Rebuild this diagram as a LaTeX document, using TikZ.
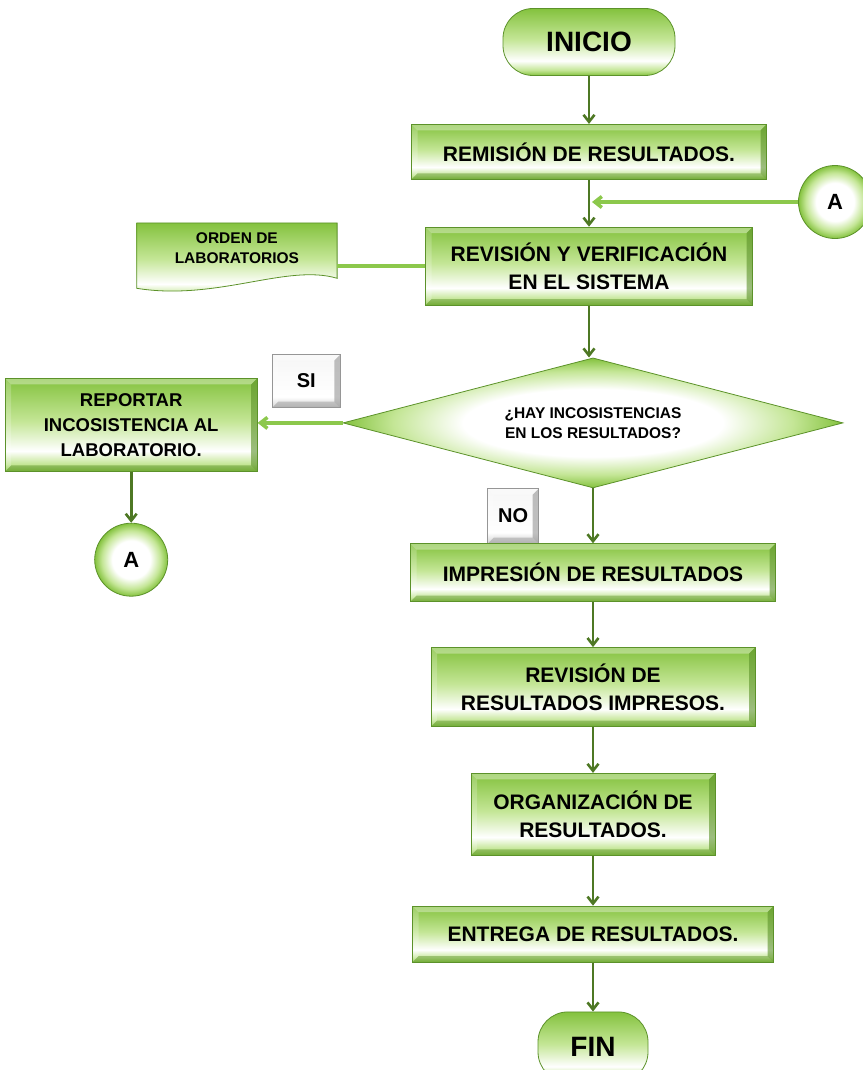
\documentclass[tikz,border=0pt]{standalone}
\usepackage{fontspec}
\setmainfont{Liberation Sans}
\usetikzlibrary{arrows.meta,positioning,shapes.geometric,backgrounds}

\definecolor{gtop}{RGB}{132,194,62}
\definecolor{glight}{RGB}{196,230,150}
\definecolor{gedge}{RGB}{92,146,42}
\definecolor{garrow}{RGB}{78,120,36}
\definecolor{glite}{RGB}{140,200,76}
\definecolor{kgray}{RGB}{150,150,150}
\definecolor{kdark}{RGB}{200,200,200}
\definecolor{klight}{RGB}{246,246,246}

\pgfdeclareverticalshading{boxshade}{100bp}{color(0bp)=(gtop); color(25bp)=(gtop);
  color(29bp)=(glight); color(36bp)=(white); color(52bp)=(glight); color(75bp)=(gtop); color(100bp)=(gtop)}
\pgfdeclareverticalshading{keyshade}{100bp}{color(0bp)=(kdark); color(25bp)=(kdark);
  color(35bp)=(white); color(75bp)=(klight); color(100bp)=(klight)}
\pgfdeclareradialshading{ballshade}{\pgfpoint{0bp}{0bp}}{color(0bp)=(white); color(13bp)=(white);
  color(20bp)=(glight); color(25bp)=(gtop); color(50bp)=(gtop)}

\tikzset{
  bevel/.style={path picture={
    \coordinate (bsw) at (path picture bounding box.south west);
    \coordinate (bne) at (path picture bounding box.north east);
    \coordinate (bse) at (bsw -| bne);
    \coordinate (bnw) at (bne -| bsw);
    \fill[white, opacity=.35] (bnw) -- (bne) -- ([shift={(-6pt,-6pt)}]bne) -- ([shift={(6pt,-6pt)}]bnw) -- cycle;
    \fill[white, opacity=.2] (bnw) -- (bsw) -- ([shift={(6pt,6pt)}]bsw) -- ([shift={(6pt,-6pt)}]bnw) -- cycle;
    \fill[#1, opacity=.45] (bsw) -- (bse) -- ([shift={(-6pt,6pt)}]bse) -- ([shift={(6pt,6pt)}]bsw) -- cycle;
    \fill[#1, opacity=.6] (bse) -- (bne) -- ([shift={(-6pt,-6pt)}]bne) -- ([shift={(-6pt,6pt)}]bse) -- cycle;
  }},
}

\begin{document}
\begin{tikzpicture}[
  x=1pt, y=-1pt,
  >={Straight Barb[length=7pt,width=11pt]},
  box/.style={rectangle, shading=boxshade, draw=gedge, line width=.8pt, bevel=gedge,
              align=center, inner sep=2pt, font=\fontsize{21}{28}\selectfont\bfseries},
  term/.style={rectangle, rounded corners=30pt, shading=boxshade, draw=gedge, line width=.8pt,
               font=\fontsize{28}{30}\selectfont\bfseries},
  dec/.style={diamond, aspect=3.8, shading=ballshade, draw=gedge,
              line width=.8pt, inner sep=0pt, align=center,
              font=\fontsize{15.5}{20}\selectfont\bfseries},
  conn/.style={circle, shading=ballshade, draw=gedge,
               line width=.8pt, minimum size=73pt, font=\fontsize{22}{24}\selectfont\bfseries},
  keybox/.style={rectangle, shading=keyshade, draw=kgray, line width=.6pt, bevel=kgray,
                 font=\fontsize{20}{22}\selectfont\bfseries},
  arr/.style={->, draw=garrow, line width=2.6pt},
  litearr/.style={->, draw=glite, line width=3.5pt},
  liteline/.style={draw=glite, line width=3.5pt},
]
\useasboundingbox (0,0) rectangle (862,1070);

% Start
\node[term, minimum width=172pt, minimum height=67pt] (inicio) at (589,42) {INICIO};

% Main column
\node[box, minimum width=355pt, minimum height=55pt, below=48pt of inicio] (remision) {REMISIÓN DE RESULTADOS.};
\node[box, minimum width=327pt, minimum height=78pt, below=47pt of remision] (revision) {REVISIÓN Y VERIFICACIÓN\\EN EL SISTEMA};

% Input document
\node[minimum width=200pt, minimum height=50pt, align=center, inner sep=0pt,
      font=\fontsize{15.5}{20}\selectfont\bfseries, left=88pt of revision, yshift=18pt] (orden) {ORDEN DE\\LABORATORIOS};
\begin{scope}[on background layer]
\shade[shading=boxshade, draw=gedge, line width=.8pt] (orden.north west) -- (orden.north east)
  -- ([yshift=-5pt]orden.south east)
  .. controls ([xshift=-50pt,yshift=10pt]orden.south east) and ([xshift=80pt,yshift=-28pt]orden.south west)
  .. ([yshift=-15pt]orden.south west) -- cycle;
\end{scope}

% Connector A (incoming)
\node[conn] (aright) at (835,202) {A};

% Decision
\node[dec, minimum width=500pt, minimum height=130pt, below=52pt of revision, xshift=4pt] (hay) {¿HAY INCOSISTENCIAS\\EN LOS RESULTADOS?};
\node[keybox, minimum width=68pt, minimum height=53pt, anchor=south east] (si) at ([shift={(-2pt,15pt)}]hay.west) {SI};
\node[keybox, minimum width=51pt, minimum height=55pt, anchor=north east] (no) at ([xshift=-54pt]hay.south) {NO};

% SI branch
\node[box, minimum width=252pt, minimum height=93pt, font=\fontsize{18.5}{25}\selectfont\bfseries,
      left=85pt of hay, yshift=-2pt] (reportar) {REPORTAR\\INCOSISTENCIA AL\\LABORATORIO.};
\node[conn, below=51pt of reportar] (aleft) {A};

% NO branch
\node[box, minimum width=365pt, minimum height=58pt, below=55pt of hay] (impresion) {IMPRESIÓN DE RESULTADOS};
\node[box, minimum width=324pt, minimum height=79pt, below=45pt of impresion] (revimp) {REVISIÓN DE\\RESULTADOS IMPRESOS.};
\node[box, minimum width=244pt, minimum height=82pt, below=46pt of revimp] (organiza) {ORGANIZACIÓN DE\\RESULTADOS.};
\node[box, minimum width=361pt, minimum height=56pt, below=50pt of organiza] (entrega) {ENTREGA DE RESULTADOS.};
\node[term, minimum width=110pt, minimum height=70pt, below=49pt of entrega] (fin) {FIN};

% flow
\draw[arr] (inicio) -- (remision);
\draw[arr] (remision) -- (revision);
\draw[litearr, shorten >=3pt] (aright.west) -- (aright.west -| remision.south);
\draw[liteline] (revision.west) -- (revision.west -| orden.east);
\draw[arr] (revision.south) -- (revision.south |- hay.north);
\draw[litearr] (hay.west) -- (hay.west -| reportar.east);
\draw[arr] (reportar) -- (aleft);
\draw[arr] (hay.south) -- (hay.south |- impresion.north);
\draw[arr] (impresion) -- (revimp);
\draw[arr] (revimp) -- (organiza);
\draw[arr] (organiza) -- (entrega);
\draw[arr] (entrega) -- (fin);

\end{tikzpicture}
\end{document}
